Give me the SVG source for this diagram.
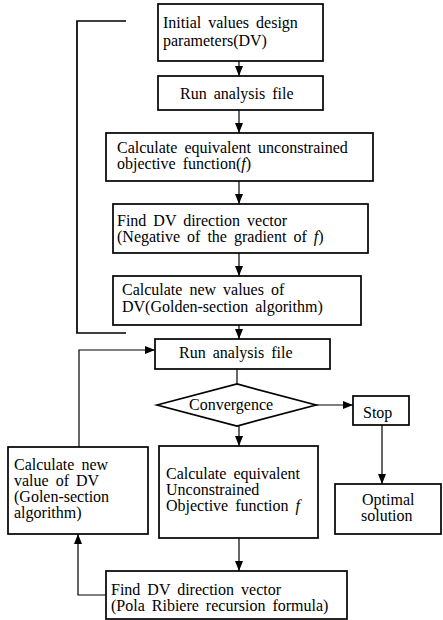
<svg xmlns="http://www.w3.org/2000/svg" width="443" height="620" viewBox="0 0 443 620">
<style>
.box{fill:#fff;stroke:#000;stroke-width:1.7}
.t{font-family:"Liberation Serif","Times New Roman",serif;font-size:16px;fill:#000;word-spacing:3px}
.c{text-anchor:middle}
.ln{fill:none;stroke:#000;stroke-width:1.2}
.lp{fill:none;stroke:#000;stroke-width:1.7}
</style>
<defs>
<marker id="ah" markerUnits="userSpaceOnUse" markerWidth="10" markerHeight="10" viewBox="0 0 10 10" refX="10" refY="5" orient="auto">
<path d="M0,1 L10,5 L0,9 Z" fill="#000"/>
</marker>
</defs>
<rect width="443" height="620" fill="#fff"/>
<g id="connectors">
<line class="ln" x1="239" y1="61" x2="239" y2="76" marker-end="url(#ah)"/>
<line class="ln" x1="239" y1="110" x2="239" y2="133" marker-end="url(#ah)"/>
<line class="ln" x1="239" y1="181" x2="239" y2="204" marker-end="url(#ah)"/>
<line class="ln" x1="239" y1="253" x2="239" y2="276" marker-end="url(#ah)"/>
<polyline class="lp" points="126,21 77,21 77,333 126,333"/>
<line class="ln" x1="239" y1="325" x2="239" y2="339" marker-end="url(#ah)"/>
<line class="ln" x1="237" y1="369" x2="237" y2="384"/>
<line class="ln" x1="316" y1="405" x2="353" y2="405" marker-end="url(#ah)"/>
<line class="ln" x1="382" y1="425" x2="382" y2="484" marker-end="url(#ah)"/>
<line class="ln" x1="239" y1="426" x2="239" y2="446" marker-end="url(#ah)"/>
<line class="ln" x1="239" y1="538" x2="239" y2="571" marker-end="url(#ah)"/>
<polyline class="ln" points="106,595 78,595 78,534" marker-end="url(#ah)"/>
<polyline class="ln" points="79,447 79,350 155,350" marker-end="url(#ah)"/>
</g>
<g id="n1">
<rect class="box" x="158" y="4" width="165" height="57"/>
<text class="t" x="163" y="28">Initial values design</text>
<text class="t" x="163" y="46">parameters(DV)</text>
</g>
<g id="n2">
<rect class="box" x="158" y="76" width="165" height="34"/>
<text class="t" x="180" y="99">Run analysis file</text>
</g>
<g id="n3">
<rect class="box" x="106" y="133" width="267" height="48"/>
<text class="t" x="117" y="153">Calculate equivalent unconstrained</text>
<text class="t" x="117" y="169">objective function(<tspan font-style="italic">f</tspan>)</text>
</g>
<g id="n4">
<rect class="box" x="113" y="204" width="255" height="49"/>
<text class="t" x="117" y="226">Find DV direction vector</text>
<text class="t" x="117" y="242">(Negative of the gradient of <tspan font-style="italic">f</tspan>)</text>
</g>
<g id="n5">
<rect class="box" x="113" y="276" width="248" height="49"/>
<text class="t" x="122" y="295">Calculate new values of</text>
<text class="t" x="122" y="312">DV(Golden-section algorithm)</text>
</g>
<g id="n6">
<rect class="box" x="155" y="339" width="175" height="30"/>
<text class="t" x="179" y="358">Run analysis file</text>
</g>
<g id="n7">
<polygon class="box" points="157,405 237,384 316,405 237,426"/>
<text class="t" x="189" y="410">Convergence</text>
</g>
<g id="n8">
<rect class="box" x="353" y="396" width="56" height="29"/>
<text class="t" x="363" y="418">Stop</text>
</g>
<g id="n9">
<rect class="box" x="335" y="484" width="106" height="50"/>
<text class="t" x="362" y="505">Optimal</text>
<text class="t" x="361" y="521">solution</text>
</g>
<g id="n10">
<rect class="box" x="8" y="447" width="140" height="87"/>
<text class="t" x="14" y="470">Calculate new</text>
<text class="t" x="14" y="486">value of DV</text>
<text class="t" x="14" y="502">(Golen-section</text>
<text class="t" x="14" y="518">algorithm)</text>
</g>
<g id="n11">
<rect class="box" x="159" y="446" width="159" height="92"/>
<text class="t" x="166" y="479">Calculate equivalent</text>
<text class="t" x="166" y="495">Unconstrained</text>
<text class="t" x="166" y="511">Objective function <tspan font-style="italic">f</tspan></text>
</g>
<g id="n12">
<rect class="box" x="106" y="571" width="241" height="48"/>
<text class="t" x="111" y="595">Find DV direction vector</text>
<text class="t" x="111" y="611">(Pola Ribiere recursion formula)</text>
</g>
</svg>
